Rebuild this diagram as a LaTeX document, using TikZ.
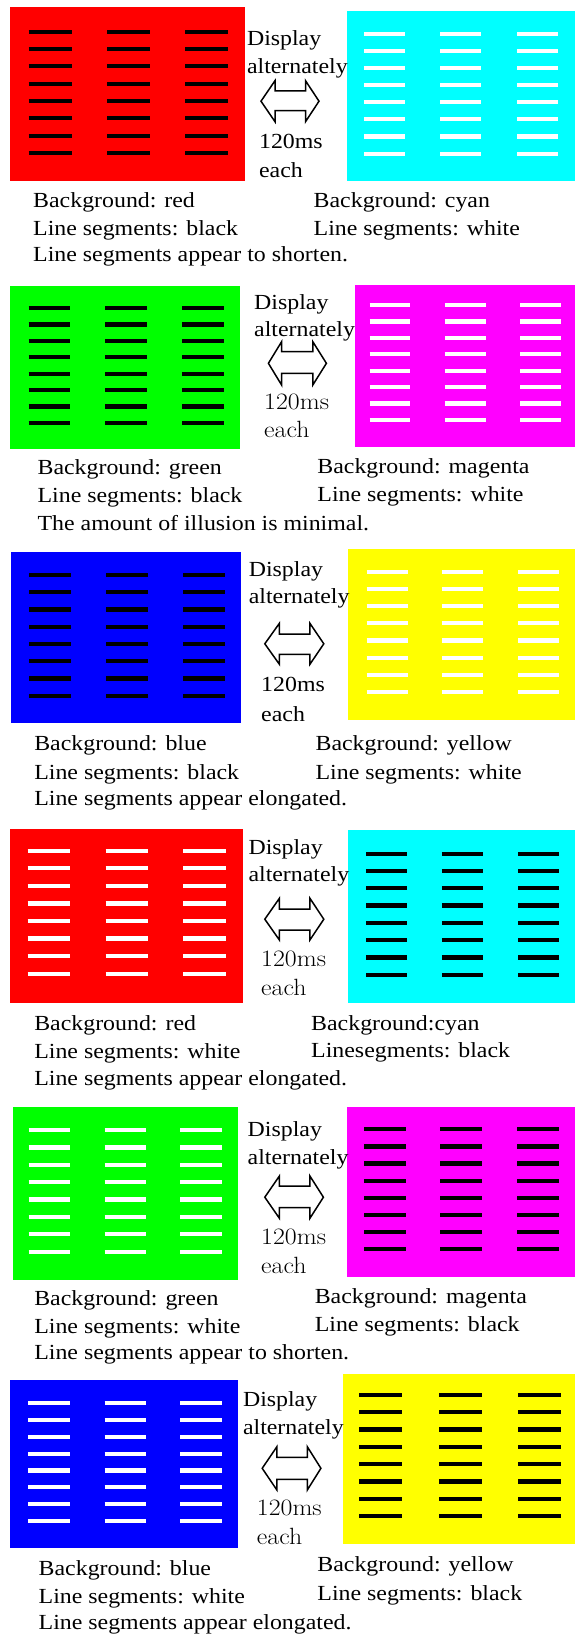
\documentclass[tikz,border=0pt]{standalone}
\usepackage{fontspec}
\setmainfont{Liberation Serif}
\newfontfamily\lmroman{Latin Modern Roman}
\definecolor{pure red}{RGB}{255,0,0}
\definecolor{pure cyan}{RGB}{0,255,255}
\definecolor{pure green}{RGB}{0,255,0}
\definecolor{pure magenta}{RGB}{255,0,255}
\definecolor{pure blue}{RGB}{0,0,255}
\definecolor{pure yellow}{RGB}{255,255,0}

% eight rows of short horizontal bars in each listed column
% #1 colour, #2 column starts, #3 bar length, #4 first row, #5 row pitch
\newcommand\barcolumns[5]{%
  \foreach \sx in {#2}{\foreach \k in {0,...,7}{%
    \draw[barline,draw=#1] (\sx,{#4+\k*#5}) -- ++(#3,0);}}}

% outlined two-headed arrow
% #1 left tip, #2 left neck, #3 right neck, #4 right tip (x)
% #5 head top, #6 shaft top, #7 middle, #8 shaft bottom, #9 head bottom (y)
\newcommand\swaparrow[9]{%
  \draw[swap] (#1,#7) -- (#2,#5) -- (#2,#6) -- (#3,#6) -- (#3,#5) -- (#4,#7)
    -- (#3,#9) -- (#3,#8) -- (#2,#8) -- (#2,#9) -- cycle;}

\begin{document}
\begin{tikzpicture}[x=1pt,y=-1pt,
  txt/.style={anchor=base west,inner sep=0pt,xscale=1.11,
    font=\fontsize{21.5}{25}\selectfont},
  lmtxt/.style={anchor=base west,inner sep=0pt,xscale=1.1,
    font=\lmroman\fontsize{23.5}{27}\selectfont},
  barline/.style={line width=4.2pt},
  swap/.style={draw=black,line width=1.5pt,fill=white,line join=miter}]
\useasboundingbox[fill=white] (0,0) rectangle (575,1635);

% ---------- red / cyan, black and white bars ----------
\fill[pure red] (10.3,7.3) rectangle (244.6,181);
\fill[pure cyan] (346.5,11) rectangle (575,181);
\barcolumns{black}{28.6,107,185.2}{43}{31.7}{17.33}
\barcolumns{white}{364.1,440,517}{41.2}{33.7}{17.14}
\swaparrow{261}{275}{305.5}{319}{80.7}{91}{101.2}{110.7}{121.7}
\node[txt] (d1) at (246.8,46) {Display};
\node[txt] (a1) at (246.8,73.3) {alternately};
\node[txt] (m1) at (258.9,148.3) {120ms};
\node[txt] (e1) at (258.9,177.7) {each};
\node[txt] (l1a) at (33,207.3) {Background: red};
\node[txt] (l1b) at (33,235) {Line segments: black};
\node[txt] (l1c) at (33,261.7) {Line segments appear to shorten.};
\node[txt] (r1a) at (313.5,207.3) {Background: cyan};
\node[txt] (r1b) at (313.5,235) {Line segments: white};

% ---------- green / magenta ----------
\fill[pure green] (10.3,286) rectangle (240.2,449.3);
\fill[pure magenta] (355,285) rectangle (575,446.7);
\barcolumns{black}{28.6,105.2,182.3}{41.3}{308}{16.43}
\barcolumns{white}{369.6,444.8,520}{40.7}{305}{16.43}
\swaparrow{268.4}{281.6}{312.8}{326.4}{341.7}{351.7}{363.3}{373.3}{385}
\node[txt] (d2) at (254,309.3) {Display};
\node[txt] (a2) at (254,336) {alternately};
\node[lmtxt] (m2) at (264,409.3) {120ms};
\node[lmtxt] (e2) at (264,437.7) {each};
\node[txt] (l2a) at (37.4,474) {Background: green};
\node[txt] (l2b) at (37.4,502.7) {Line segments: black};
\node[txt] (l2c) at (37.4,530.7) {The amount of illusion is minimal.};
\node[txt] (r2a) at (317.2,473.3) {Background: magenta};
\node[txt] (r2b) at (317.2,501.7) {Line segments: white};

% ---------- blue / yellow ----------
\fill[pure blue] (11,552.3) rectangle (241,723.3);
\fill[pure yellow] (347.6,549.3) rectangle (575,720);
\barcolumns{black}{29.3,106.3,183.3}{41.8}{575}{17.24}
\barcolumns{white}{366.7,441.9,518.2}{41}{571.7}{17.19}
\swaparrow{264.8}{279.4}{309.9}{323.8}{623.3}{634}{643.8}{654.3}{664.3}
\node[txt] (d3) at (248.6,576) {Display};
\node[txt] (a3) at (248.6,603.3) {alternately};
\node[txt] (m3) at (261,691.7) {120ms};
\node[txt] (e3) at (261,721) {each};
\node[txt] (l3a) at (34.1,750) {Background: blue};
\node[txt] (l3b) at (34.1,779.3) {Line segments: black};
\node[txt] (l3c) at (34.1,805.7) {Line segments appear elongated.};
\node[txt] (r3a) at (315.4,750) {Background: yellow};
\node[txt] (r3b) at (315.4,779) {Line segments: white};

% ---------- red / cyan, white and black bars ----------
\fill[pure red] (9.9,829) rectangle (242.8,1002.7);
\fill[pure cyan] (348.4,830) rectangle (575,1002.7);
\barcolumns{white}{27.5,105.6,183.4}{42.5}{850.7}{17.57}
\barcolumns{black}{366,441.9,518.2}{41}{853.7}{17.29}
\swaparrow{264.8}{279.4}{309.9}{323.8}{898.3}{909}{919.2}{930}{940}
\node[txt] (d4) at (248.3,854.3) {Display};
\node[txt] (a4) at (248.3,881.7) {alternately};
\node[lmtxt] (m4) at (261,966) {120ms};
\node[lmtxt] (e4) at (261,995.7) {each};
\node[txt] (l4a) at (34.1,1030.7) {Background: red};
\node[txt] (l4b) at (34.1,1058.3) {Line segments: white};
\node[txt] (l4c) at (34.1,1085) {Line segments appear elongated.};
\node[txt] (r4a) at (311,1030) {Background:cyan};
\node[txt] (r4b) at (311,1057.3) {Linesegments: black};

% ---------- green / magenta, white and black bars ----------
\fill[pure green] (12.8,1106.7) rectangle (237.6,1280);
\fill[pure magenta] (346.5,1106.7) rectangle (575,1276.7);
\barcolumns{white}{28.6,104.5,180.4}{41.3}{1130}{17.39}
\barcolumns{black}{364.1,440,517}{42}{1129.3}{17.1}
\swaparrow{264.8}{279.4}{309.9}{323.4}{1176}{1186}{1197.2}{1207.7}{1218.3}
\node[txt] (d5) at (247.5,1136.7) {Display};
\node[txt] (a5) at (247.5,1164) {alternately};
\node[lmtxt] (m5) at (261,1244) {120ms};
\node[lmtxt] (e5) at (261,1273.3) {each};
\node[txt] (l5a) at (34.1,1305) {Background: green};
\node[txt] (l5b) at (34.1,1333.3) {Line segments: white};
\node[txt] (l5c) at (34.1,1359.3) {Line segments appear to shorten.};
\node[txt] (r5a) at (314.6,1303.3) {Background: magenta};
\node[txt] (r5b) at (314.6,1331) {Line segments: black};

% ---------- blue / yellow, white and black bars ----------
\fill[pure blue] (10.3,1380) rectangle (238.4,1548.3);
\fill[pure yellow] (342.9,1374) rectangle (575,1544);
\barcolumns{white}{28.2,104.5,180.4}{41.5}{1403.3}{16.81}
\barcolumns{black}{359.4,439.3,518.2}{43}{1395}{17.29}
\swaparrow{262.2}{276.9}{307.3}{320.9}{1446.7}{1457.3}{1468.3}{1479.3}{1490}
\node[txt] (d6) at (242.8,1406.7) {Display};
\node[txt] (a6) at (242.8,1434.3) {alternately};
\node[lmtxt] (m6) at (256.7,1515) {120ms};
\node[lmtxt] (e6) at (256.7,1544) {each};
\node[txt] (l6a) at (38.5,1575) {Background: blue};
\node[txt] (l6b) at (38.5,1603.3) {Line segments: white};
\node[txt] (l6c) at (38.5,1629.3) {Line segments appear elongated.};
\node[txt] (r6a) at (317.2,1571.7) {Background: yellow};
\node[txt] (r6b) at (317.2,1600) {Line segments: black};
\end{tikzpicture}
\end{document}
